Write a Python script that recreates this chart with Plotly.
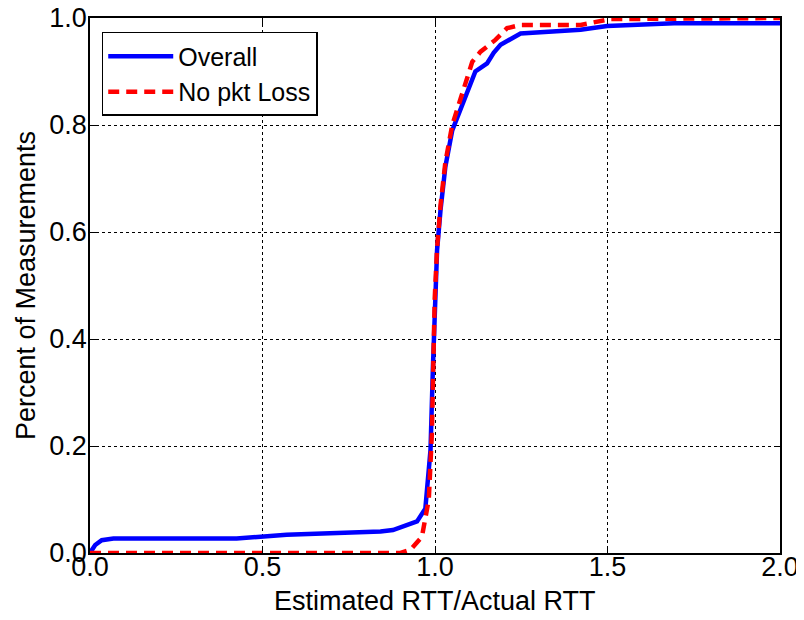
import plotly.graph_objects as go

overall_x = [0.0, 0.015, 0.034, 0.068, 0.20, 0.425, 0.57, 0.772, 0.842, 0.878, 0.948, 0.972,
             0.987, 0.994, 0.999, 1.006, 1.016, 1.030, 1.050, 1.083, 1.117, 1.151, 1.170,
             1.190, 1.248, 1.422, 1.499, 1.693, 2.0]
overall_y = [0.0, 0.015, 0.024, 0.027, 0.027, 0.027, 0.034, 0.038, 0.040, 0.043, 0.059, 0.083,
             0.193, 0.348, 0.473, 0.566, 0.641, 0.722, 0.790, 0.847, 0.900, 0.915, 0.935,
             0.950, 0.971, 0.978, 0.985, 0.990, 0.990]

noloss_x = [0.0, 0.90, 0.929, 0.962, 0.982, 0.991, 0.999, 1.006, 1.016, 1.030, 1.050, 1.083,
            1.108, 1.132, 1.175, 1.209, 1.248, 1.422, 1.470, 1.509, 2.0]
noloss_y = [0.0, 0.0, 0.006, 0.030, 0.100, 0.224, 0.473, 0.570, 0.650, 0.730, 0.800, 0.870,
            0.918, 0.937, 0.959, 0.981, 0.987, 0.987, 0.993, 0.998, 1.0]

x_ticks = [0.0, 0.5, 1.0, 1.5, 2.0]
y_ticks = [0.0, 0.2, 0.4, 0.6, 0.8, 1.0]

x_title = "Estimated RTT/Actual RTT"
y_title = "Percent of Measurements"

FONT = "Liberation Sans, Arial"

fig = go.Figure()
fig.add_trace(go.Scatter(x=overall_x, y=overall_y, mode="lines", name="Overall",
                         line=dict(color="#0000ff", width=4.5)))
fig.add_trace(go.Scatter(x=noloss_x, y=noloss_y, mode="lines", name="No pkt Loss",
                         line=dict(color="#ff0000", width=4.5, dash="11px,7px")))

axis_common = dict(showline=True, linecolor="black", linewidth=1.5, mirror="allticks",
                   ticks="inside", ticklen=6, tickcolor="black", showgrid=True,
                   gridcolor="black", griddash="dot", gridwidth=1, zeroline=False,
                   automargin=False, ticklabeloverflow="allow",
                   tickfont=dict(family=FONT, size=27, color="black"))

fig.update_xaxes(range=[0, 2], tickvals=x_ticks, ticktext=[f"{v:.1f}" for v in x_ticks],
                 ticklabelstandoff=-11, **axis_common)
fig.update_yaxes(range=[0, 1], tickvals=y_ticks, ticktext=[f"{v:.1f}" for v in y_ticks],
                 ticklabelstandoff=-4, **axis_common)

fig.add_annotation(text=x_title, xref="paper", yref="paper", x=0.5, y=-0.090,
                   xanchor="center", yanchor="middle", showarrow=False,
                   font=dict(family=FONT, size=27, color="black"))
fig.add_annotation(text=y_title, xref="paper", yref="paper", x=-0.0934, y=0.5,
                   xanchor="center", yanchor="middle", showarrow=False, textangle=-90,
                   font=dict(family=FONT, size=27, color="black"))

fig.update_layout(
    width=804, height=620,
    margin=dict(l=82, r=32, t=10, b=75),
    plot_bgcolor="white", paper_bgcolor="white",
    font=dict(family=FONT, size=25, color="black"),
    legend=dict(x=0.017, y=0.974, xanchor="left", yanchor="top",
                bordercolor="black", borderwidth=1.5, bgcolor="white",
                itemwidth=65,
                font=dict(family=FONT, size=25), tracegroupgap=0),
    showlegend=True,
)

fig.write_html("out.html")
